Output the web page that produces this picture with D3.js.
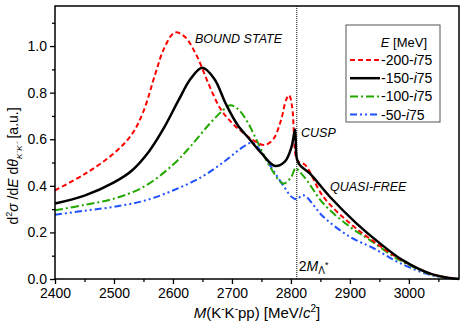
<!DOCTYPE html>
<html>
<head>
<meta charset="utf-8">
<script src="https://cdn.jsdelivr.net/npm/d3@7"></script>
<style>
  body { margin: 0; background: #fff; }
  text { font-family: "Liberation Sans", Arial, sans-serif; }
</style>
</head>
<body>
<div id="chart"></div>
<script>
// series: mass [MeV/c^2] and cross section [a.u.]
const mass200 = [2400, 2450, 2500, 2530, 2550, 2570, 2585, 2603, 2620, 2640, 2660, 2680, 2700, 2720, 2740, 2755, 2770, 2783, 2792, 2797, 2802, 2808, 2812, 2824, 2855, 2900, 2945, 2985, 3040, 3085];
const sigma200 = [0.381, 0.45, 0.54, 0.62, 0.72, 0.88, 0.99, 1.058, 1.04, 0.96, 0.84, 0.733, 0.67, 0.626, 0.59, 0.575, 0.6, 0.68, 0.77, 0.789, 0.74, 0.53, 0.505, 0.49, 0.353, 0.239, 0.153, 0.085, 0.02, 0];

const mass150 = [2400, 2450, 2500, 2530, 2560, 2585, 2610, 2630, 2650, 2670, 2690, 2710, 2730, 2750, 2773, 2790, 2801, 2807, 2810, 2815, 2832, 2866, 2911, 2951, 2990, 3040, 3085];
const sigma150 = [0.324, 0.358, 0.415, 0.465, 0.55, 0.65, 0.77, 0.86, 0.907, 0.86, 0.75, 0.66, 0.6, 0.54, 0.485, 0.505, 0.567, 0.642, 0.517, 0.489, 0.453, 0.353, 0.239, 0.153, 0.08, 0.02, 0];

const mass100 = [2400, 2450, 2500, 2550, 2600, 2630, 2660, 2685, 2697, 2710, 2725, 2745, 2765, 2787, 2800, 2808, 2815, 2827, 2855, 2900, 2934, 2985, 3040, 3085];
const sigma100 = [0.295, 0.318, 0.345, 0.395, 0.49, 0.57, 0.66, 0.725, 0.746, 0.73, 0.68, 0.58, 0.48, 0.41, 0.435, 0.476, 0.46, 0.424, 0.324, 0.224, 0.167, 0.08, 0.018, 0];

const mass50 = [2400, 2450, 2500, 2550, 2600, 2650, 2690, 2719, 2735, 2750, 2770, 2790, 2801, 2810, 2821, 2855, 2900, 2940, 2985, 3040, 3085];
const sigma50 = [0.276, 0.293, 0.31, 0.335, 0.38, 0.44, 0.51, 0.567, 0.585, 0.545, 0.467, 0.39, 0.353, 0.342, 0.36, 0.267, 0.181, 0.132, 0.068, 0.015, 0];

const legendLabels = ["-200-", "-150-", "-100-", "-50-"];
const xTicks = [2400, 2500, 2600, 2700, 2800, 2900, 3000];
const yTicks = [0, 0.2, 0.4, 0.6, 0.8, 1.0];
const threshold = 2810;

function loadChart() {
  let svgWidth = 463;
  let svgHeight = 324;

  let margin = { top: 6, right: 4, bottom: 45, left: 55 };
  let width = svgWidth - margin.left - margin.right;
  let height = svgHeight - margin.top - margin.bottom;

  let svg = d3.select("#chart").append("svg")
    .attr("width", svgWidth)
    .attr("height", svgHeight);

  let chartGroup = svg.append("g")
    .attr("transform", `translate(${margin.left}, ${margin.top})`);

  let x = d3.scaleLinear().domain([2400, 3085]).range([0, width]);
  let y = d3.scaleLinear().domain([0, 1.172]).range([height, 0]);

  // minor ticks
  chartGroup.append("g")
    .attr("transform", `translate(0, ${height})`)
    .call(d3.axisBottom(x).tickValues(d3.range(2450, 3085, 100)).tickSize(3).tickFormat(""))
    .call(g => g.select(".domain").remove());
  chartGroup.append("g")
    .call(d3.axisLeft(y).tickValues(d3.range(0.1, 1.15, 0.2)).tickSize(3).tickFormat(""))
    .call(g => g.select(".domain").remove());

  // major ticks
  chartGroup.append("g")
    .attr("transform", `translate(0, ${height})`)
    .call(d3.axisBottom(x).tickValues(xTicks).tickSize(5).tickPadding(4).tickFormat(d3.format("d")))
    .call(g => g.select(".domain").remove())
    .selectAll("text").attr("font-size", "14px").attr("fill", "#000");
  chartGroup.append("g")
    .call(d3.axisLeft(y).tickValues(yTicks).tickSize(5).tickPadding(3).tickFormat(d3.format(".1f")))
    .call(g => g.select(".domain").remove())
    .selectAll("text").attr("font-size", "14px").attr("fill", "#000");

  chartGroup.selectAll(".tick line").attr("stroke", "#000").attr("stroke-width", 1.3);

  // threshold line
  chartGroup.append("line")
    .attr("x1", x(threshold)).attr("x2", x(threshold))
    .attr("y1", 0).attr("y2", height)
    .attr("stroke", "#000")
    .attr("stroke-width", 1)
    .attr("stroke-dasharray", "1,1");

  let series = [
    { m: mass200, s: sigma200, color: "#ff0000", dash: "5,3", w: 2 },
    { m: mass150, s: sigma150, color: "#000000", dash: null, w: 2.5 },
    { m: mass100, s: sigma100, color: "#22a800", dash: "8,3,2,3", w: 2 },
    { m: mass50, s: sigma50, color: "#2050ff", dash: "7,3,2,3,2,3", w: 2 }
  ];

  let line = d3.line()
    .x(d => x(d[0]))
    .y(d => y(d[1]))
    .curve(d3.curveCatmullRom.alpha(0.5));

  // draw back to front so black sits on top like the original
  [3, 2, 0, 1].forEach(i => {
    let sr = series[i];
    chartGroup.append("path")
      .datum(d3.zip(sr.m, sr.s))
      .attr("d", line)
      .attr("fill", "none")
      .attr("stroke", sr.color)
      .attr("stroke-width", sr.w)
      .attr("stroke-dasharray", sr.dash);
  });

  // frame
  chartGroup.append("rect")
    .attr("width", width).attr("height", height)
    .attr("fill", "none")
    .attr("stroke", "#000")
    .attr("stroke-width", 1.5);

  // annotations
  let notes = [
    { t: "BOUND STATE", px: 195, py: 43 },
    { t: "CUSP", px: 301, py: 137 },
    { t: "QUASI-FREE", px: 330, py: 191 }
  ];
  notes.forEach(n => {
    svg.append("text")
      .attr("x", n.px).attr("y", n.py)
      .attr("font-size", "12.5px")
      .attr("font-style", "italic")
      .text(n.t);
  });

  let thr = svg.append("text")
    .attr("x", margin.left + x(threshold) + 2).attr("y", 271)
    .attr("font-size", "14px");
  thr.append("tspan").text("2");
  thr.append("tspan").attr("font-style", "italic").text("M");
  thr.append("tspan").attr("font-size", "10px").attr("dy", 3).text("Λ");
  thr.append("tspan").attr("font-size", "9px").attr("dy", -6).text("*");

  // legend
  let lg = svg.append("g");
  lg.append("rect")
    .attr("x", 346).attr("y", 25).attr("width", 94).attr("height", 97)
    .attr("fill", "#fff").attr("stroke", "#555").attr("stroke-width", 1);
  let lt = lg.append("text")
    .attr("x", 427).attr("y", 47).attr("text-anchor", "end")
    .attr("font-size", "13px");
  lt.append("tspan").attr("font-style", "italic").text("E");
  lt.append("tspan").text(" [MeV]");

  legendLabels.forEach((lab, i) => {
    let cy = 60 + i * 18.2;
    let sr = series[i];
    lg.append("line")
      .attr("x1", 350).attr("x2", 380)
      .attr("y1", cy).attr("y2", cy)
      .attr("stroke", sr.color)
      .attr("stroke-width", sr.w)
      .attr("stroke-dasharray", sr.dash);
    let tx = lg.append("text")
      .attr("x", 381).attr("y", cy + 5)
      .attr("font-size", "14px");
    tx.append("tspan").text(lab);
    tx.append("tspan").attr("font-style", "italic").text("i");
    tx.append("tspan").text("75");
  });

  // axis titles
  let xt = svg.append("text")
    .attr("x", margin.left + width / 2).attr("y", 318)
    .attr("text-anchor", "middle")
    .attr("font-size", "15px");
  xt.append("tspan").attr("font-style", "italic").text("M");
  xt.append("tspan").text("(K");
  xt.append("tspan").attr("font-size", "10px").attr("dy", -6).text("-");
  xt.append("tspan").attr("dy", 6).text("K");
  xt.append("tspan").attr("font-size", "10px").attr("dy", -6).text("-");
  xt.append("tspan").attr("dy", 6).text("pp) [MeV/");
  xt.append("tspan").attr("font-style", "italic").text("c");
  xt.append("tspan").attr("font-size", "10px").attr("dy", -6).text("2");
  xt.append("tspan").attr("dy", 6).text("]");

  let yt = svg.append("text")
    .attr("transform", "translate(18, 166) rotate(-90)")
    .attr("text-anchor", "middle")
    .attr("font-size", "14px");
  yt.append("tspan").text("d");
  yt.append("tspan").attr("font-size", "9px").attr("dy", -6).text("2");
  yt.append("tspan").attr("dy", 6).attr("font-style", "italic").text("σ");
  yt.append("tspan").text(" /d");
  yt.append("tspan").attr("font-style", "italic").text("E");
  yt.append("tspan").text(" d");
  yt.append("tspan").attr("font-style", "italic").text("θ");
  yt.append("tspan").attr("font-size", "8px").attr("dy", 4).attr("font-style", "italic").text("K⁻K⁻");
  yt.append("tspan").attr("dy", -4).text(" [a.u.]");
}

loadChart();
</script>
</body>
</html>
